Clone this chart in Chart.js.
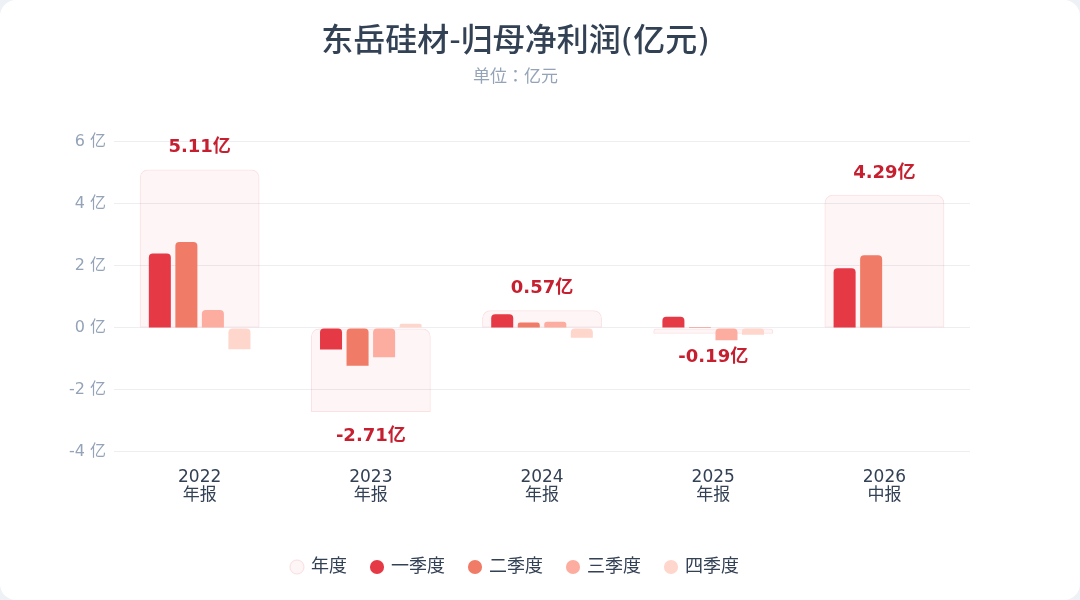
<!DOCTYPE html>
<html>
<head>
<meta charset="utf-8">
<script src="https://cdn.jsdelivr.net/npm/chart.js@4.4.1/dist/chart.umd.min.js"></script>
<style>
  html, body { margin: 0; padding: 0; background: #eef1f5; }
  .card { position: absolute; left: 0; top: 0; width: 1080px; height: 600px; background: #ffffff; border-radius: 16px; overflow: hidden; }
  .wrap { position: absolute; left: 20px; top: 0; width: 996px; height: 600px; }
</style>
</head>
<body>
<div class="card"><div class="wrap"><canvas id="c"></canvas></div></div>
<script>
const categories = [['2022', '年报'], ['2023', '年报'], ['2024', '年报'], ['2025', '年报'], ['2026', '中报']];
const annual = [5.11, -2.71, 0.57, -0.19, 4.29];
const q1 = [2.40, -0.70, 0.44, 0.36, 1.92];
const q2 = [2.77, -1.22, 0.17, 0.03, 2.34];
const q3 = [0.58, -0.95, 0.20, -0.40, null];
const q4 = [-0.69, 0.13, -0.32, -0.22, null];
const seriesNames = ['年度', '一季度', '二季度', '三季度', '四季度'];
const yTicks = [-4, -2, 0, 2, 4, 6];

const FONT = "'DejaVu Sans', 'Noto Sans CJK JP', sans-serif";
const CJK = "'Noto Sans CJK JP', 'DejaVu Sans', sans-serif";
const quarterColors = ['#e63946', '#f07b66', '#fdada0', '#fed6cc'];
const topRadius = r => ({ topLeft: r, topRight: r, bottomLeft: 0, bottomRight: 0 });

const quarterData = [q1, q2, q3, q4];
const quarterSets = quarterData.map((d, i) => ({
  label: seriesNames[i + 1],
  data: d,
  backgroundColor: quarterColors[i],
  borderColor: quarterColors[i],
  borderWidth: 0,
  borderRadius: topRadius(4),
  borderSkipped: false,
  categoryPercentage: 0.62,
  barPercentage: 0.83,
  order: 0
}));

const annualSet = {
  label: seriesNames[0],
  data: annual,
  grouped: false,
  backgroundColor: 'rgba(230,57,70,0.05)',
  borderColor: 'rgba(230,57,70,0.15)',
  borderWidth: 1,
  borderRadius: topRadius(8),
  borderSkipped: false,
  categoryPercentage: 0.7,
  barPercentage: 1.0,
  order: 1
};

const valueLabels = {
  id: 'valueLabels',
  afterDatasetsDraw(chart) {
    const meta = chart.getDatasetMeta(0);
    const ctx = chart.ctx;
    ctx.save();
    ctx.font = "bold 18px " + FONT;
    ctx.fillStyle = '#c62030';
    ctx.textAlign = 'center';
    ctx.textBaseline = 'middle';
    meta.data.forEach((el, i) => {
      const v = annual[i];
      if (v === null) return;
      const y = v >= 0 ? el.y - 22 : el.y + 24;
      ctx.fillText(v.toFixed(2) + '亿', el.x, y);
    });
    ctx.restore();
  }
};

new Chart(document.getElementById('c'), {
  type: 'bar',
  data: {
    labels: categories,
    datasets: [annualSet, ...quarterSets]
  },
  options: {
    responsive: true,
    maintainAspectRatio: false,
    animation: false,
    layout: { padding: { left: 41, right: 46, top: 0, bottom: 14 } },
    plugins: {
      title: {
        display: true,
        text: '东岳硅材-归母净利润(亿元)',
        color: '#334155',
        font: { family: FONT, size: 32, weight: '500' },
        padding: { top: 23, bottom: 4 }
      },
      subtitle: {
        display: true,
        text: '单位：亿元',
        color: '#94a3b8',
        font: { family: CJK, size: 17 },
        padding: { top: 0, bottom: 56 }
      },
      legend: {
        position: 'bottom',
        labels: {
          usePointStyle: true,
          pointStyle: 'circle',
          boxWidth: 10,
          boxHeight: 10,
          padding: 25,
          color: '#334155',
          font: { family: FONT, size: 18 },
          sort: (a, b) => a.datasetIndex - b.datasetIndex
        }
      },
      tooltip: { enabled: false }
    },
    scales: {
      x: {
        grid: { display: false },
        border: { display: false },
        afterFit: axis => { axis.height += 19; },
        ticks: {
          color: '#334155',
          font: { family: FONT, size: 17, lineHeight: 1.06 },
          padding: 9
        }
      },
      y: {
        min: -4,
        max: 6,
        afterBuildTicks: axis => { axis.ticks = yTicks.map(v => ({ value: v })); },
        grid: { color: '#eceef2', drawTicks: false },
        border: { display: false },
        ticks: {
          color: '#94a3b8',
          font: { family: FONT, size: 16 },
          padding: 8,
          callback: v => v + ' 亿'
        }
      }
    }
  },
  plugins: [valueLabels]
});
</script>
</body>
</html>
